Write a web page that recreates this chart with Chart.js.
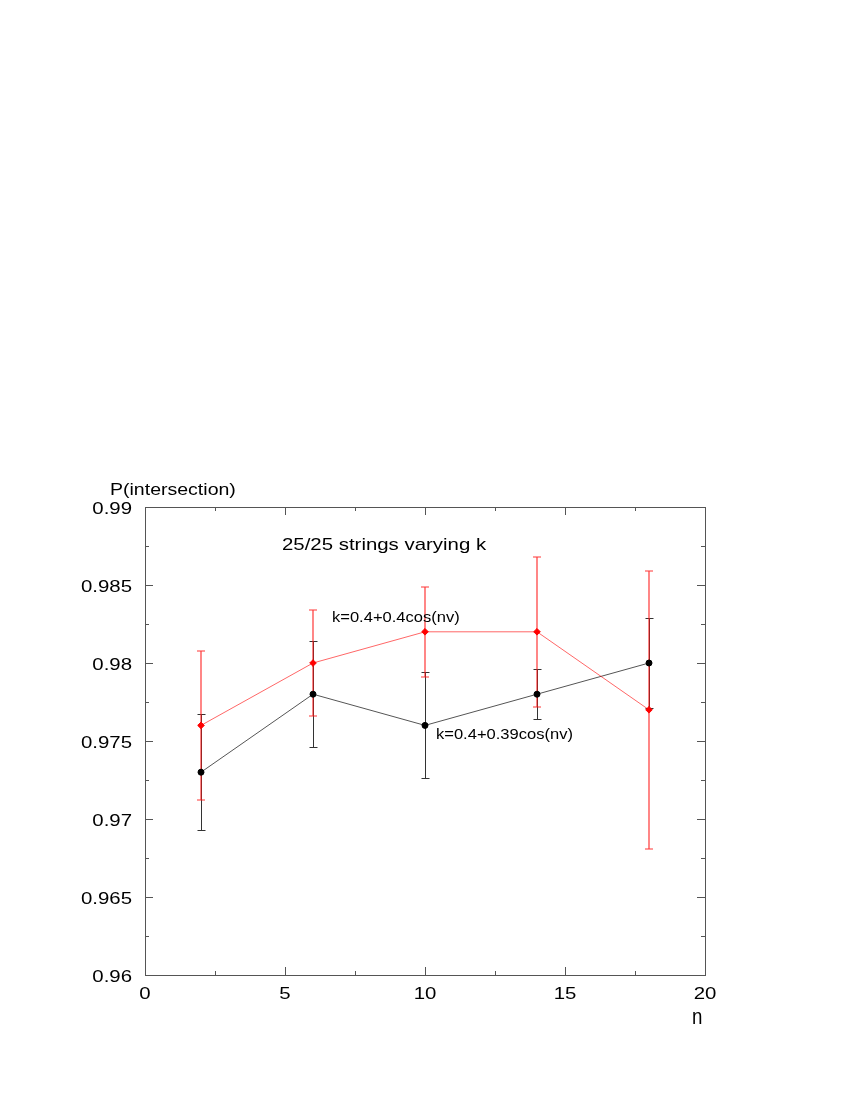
<!DOCTYPE html>
<html>
<head>
<meta charset="utf-8">
<script src="https://cdn.jsdelivr.net/npm/chart.js@4/dist/chart.umd.min.js"></script>
<style>
  html, body { margin: 0; padding: 0; background: #fff; }
  #wrap { width: 850px; height: 1100px; }
</style>
</head>
<body>
<div id="wrap"><canvas id="chart" width="850" height="1100"></canvas></div>
<script>
// data
const nValues = [2, 6, 10, 14, 18];
const blackValues = [0.973, 0.978, 0.976, 0.978, 0.980];
const blackErrors = [0.0037, 0.0034, 0.0034, 0.0016, 0.0029];
const redValues = [0.976, 0.980, 0.982, 0.982, 0.977];
const redErrors = [0.0048, 0.0034, 0.0029, 0.0048, 0.0089];

const xTicks = [0, 5, 10, 15, 20];
const yTicks = [0.96, 0.965, 0.97, 0.975, 0.98, 0.985, 0.99];

const FONT = 'Liberation Sans, Arial, Helvetica, sans-serif';

function isMajor(v, step) {
    return Math.abs(v / step - Math.round(v / step)) < 1e-6;
}

// text in the picture is a bit wider than the font, so stretch it
function drawText(ctx, text, x, y, size, sx, align) {
    ctx.save();
    ctx.font = size + 'px ' + FONT;
    ctx.textAlign = align || 'left';
    ctx.textBaseline = 'alphabetic';
    ctx.translate(x, y);
    ctx.scale(sx, 1);
    ctx.fillText(text, 0, 0);
    ctx.restore();
}

const decor = {
    id: 'decor',
    beforeDatasetsDraw(chart) {
        const ctx = chart.ctx;
        const xs = chart.scales.x, ys = chart.scales.y;
        const sets = [
            { vals: blackValues, errs: blackErrors, color: '#333333', snap: 0.5, w: 1 },
            { vals: redValues, errs: redErrors, color: 'rgba(255,20,20,0.85)', snap: 0, w: 1.2 }
        ];
        ctx.save();
        sets.forEach(s => {
            ctx.strokeStyle = s.color;
            ctx.lineWidth = s.w;
            s.vals.forEach((v, i) => {
                const x = Math.round(xs.getPixelForValue(nValues[i])) + s.snap;
                const yTop = Math.round(ys.getPixelForValue(v + s.errs[i])) + s.snap;
                const yBot = Math.round(ys.getPixelForValue(v - s.errs[i])) + s.snap;
                ctx.beginPath();
                ctx.moveTo(x, yTop); ctx.lineTo(x, yBot);
                ctx.moveTo(x - 4, yTop); ctx.lineTo(x + 4, yTop);
                ctx.moveTo(x - 4, yBot); ctx.lineTo(x + 4, yBot);
                ctx.stroke();
            });
        });
        ctx.restore();
    },
    afterDraw(chart) {
        const ctx = chart.ctx;
        const a = chart.chartArea;
        const xs = chart.scales.x, ys = chart.scales.y;
        ctx.save();
        ctx.strokeStyle = '#555555';
        ctx.lineWidth = 1;
        ctx.strokeRect(Math.round(a.left) + 0.5, Math.round(a.top) + 0.5,
            Math.round(a.right - a.left), Math.round(a.bottom - a.top));

        // inward ticks on all four sides
        ctx.beginPath();
        ys.ticks.forEach(t => {
            const y = Math.round(ys.getPixelForValue(t.value)) + 0.5;
            const len = isMajor(t.value, 0.005) ? 8 : 4;
            ctx.moveTo(a.left, y); ctx.lineTo(a.left + len, y);
            ctx.moveTo(a.right, y); ctx.lineTo(a.right - len, y);
        });
        xs.ticks.forEach(t => {
            const x = Math.round(xs.getPixelForValue(t.value)) + 0.5;
            const len = isMajor(t.value, 5) ? 8 : 4;
            ctx.moveTo(x, a.bottom); ctx.lineTo(x, a.bottom - len);
            ctx.moveTo(x, a.top); ctx.lineTo(x, a.top + len);
        });
        ctx.stroke();

        ctx.fillStyle = '#000';
        yTicks.forEach(v => {
            drawText(ctx, String(v), a.left - 13, ys.getPixelForValue(v) + 7, 17, 1.2, 'right');
        });
        xTicks.forEach(v => {
            drawText(ctx, String(v), xs.getPixelForValue(v), a.bottom + 24, 17, 1.2, 'center');
        });

        drawText(ctx, 'P(intersection)', 110, 495, 16, 1.22, 'left');
        drawText(ctx, '25/25 strings varying k', 282, 550, 17, 1.2, 'left');
        drawText(ctx, 'n', 692, 1024, 22, 0.85, 'left');
        drawText(ctx, 'k=0.4+0.4cos(nv)', 332, 622, 14.5, 1.14, 'left');
        drawText(ctx, 'k=0.4+0.39cos(nv)', 436, 739, 14.5, 1.14, 'left');
        ctx.restore();
    }
};

new Chart(document.getElementById('chart'), {
    type: 'scatter',
    data: {
        datasets: [
            {
                label: 'k=0.4+0.39cos(nv)',
                data: nValues.map((n, i) => ({ x: n, y: blackValues[i] })),
                showLine: true,
                borderColor: '#555555',
                borderWidth: 1,
                pointBackgroundColor: '#000',
                pointBorderColor: '#000',
                pointRadius: 3,
                order: 2
            },
            {
                label: 'k=0.4+0.4cos(nv)',
                data: nValues.map((n, i) => ({ x: n, y: redValues[i] })),
                showLine: true,
                borderColor: 'rgba(255,0,0,0.6)',
                borderWidth: 1,
                pointBackgroundColor: '#ff0000',
                pointBorderColor: '#ff0000',
                pointRadius: 3.3,
                pointStyle: 'rectRot',
                order: 1
            }
        ]
    },
    options: {
        responsive: false,
        animation: false,
        layout: { padding: { left: 0, top: 507, right: 145, bottom: 85 } },
        plugins: { legend: { display: false }, tooltip: { enabled: false } },
        scales: {
            x: {
                type: 'linear',
                min: 0, max: 20,
                afterFit: s => { s.height = 40; },
                afterBuildTicks: s => {
                    const t = [];
                    for (let v = 0; v <= 20.0001; v += 2.5) t.push({ value: v });
                    s.ticks = t;
                },
                grid: { display: false },
                border: { display: false },
                ticks: { display: false }
            },
            y: {
                type: 'linear',
                min: 0.96, max: 0.99,
                afterFit: s => { s.width = 145; },
                afterBuildTicks: s => {
                    const t = [];
                    for (let i = 0; i <= 12; i++) t.push({ value: 0.96 + i * 0.0025 });
                    s.ticks = t;
                },
                grid: { display: false },
                border: { display: false },
                ticks: { display: false }
            }
        }
    },
    plugins: [decor]
});
</script>
</body>
</html>
